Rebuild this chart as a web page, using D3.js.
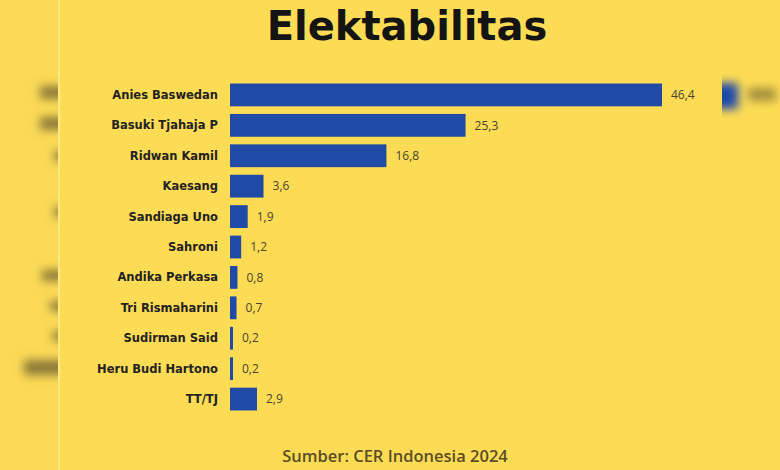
<!DOCTYPE html>
<html>
<head>
<meta charset="utf-8">
<script src="https://cdn.jsdelivr.net/npm/d3@7"></script>
<style>
html,body{margin:0;padding:0;background:#FDDC55;}
svg{display:block;}
</style>
</head>
<body>
<svg id="chart" width="780" height="470"></svg>
<script>
const categories = ["Anies Baswedan","Basuki Tjahaja P","Ridwan Kamil","Kaesang","Sandiaga Uno","Sahroni","Andika Perkasa","Tri Rismaharini","Sudirman Said","Heru Budi Hartono","TT/TJ"];
const values = [46.4,25.3,16.8,3.6,1.9,1.2,0.8,0.7,0.2,0.2,2.9];
const title = "Elektabilitas";
const source = "Sumber: CER Indonesia 2024";

const svg = d3.select("#chart");
const W = 780, H = 470;
const defs = svg.append("defs");
defs.append("filter").attr("id","blur").attr("filterUnits","userSpaceOnUse")
  .attr("x",-50).attr("y",-50).attr("width",W+100).attr("height",H+100)
  .append("feGaussianBlur").attr("stdDeviation", 5);

svg.append("rect").attr("width",W).attr("height",H).attr("fill","#FDDC55");

// blurred side panels (background of the screenshot)
const side = svg.append("g");
side.append("rect").attr("x",0).attr("y",0).attr("width",58).attr("height",H).attr("fill","#FBDA56");
side.append("rect").attr("x",722).attr("y",0).attr("width",58).attr("height",H).attr("fill","#FDDC55");
const leftClip = defs.append("clipPath").attr("id","lc");
leftClip.append("rect").attr("x",0).attr("y",0).attr("width",58).attr("height",H);
const rightClip = defs.append("clipPath").attr("id","rc");
rightClip.append("rect").attr("x",722).attr("y",0).attr("width",58).attr("height",H);
const lb = side.append("g").attr("clip-path","url(#lc)").append("g").attr("filter","url(#blur)");
[[40,86,40,13],[40,117,40,13],[54,151,20,10],[54,207,20,10],[42,270,40,11],[50,301,30,10],[53,331,20,10],[24,360,60,15]].forEach(d=>{
  lb.append("rect").attr("x",d[0]).attr("y",d[1]).attr("width",d[2]).attr("height",d[3]).attr("fill","#6e6030").attr("opacity",0.8);
});
const rb = side.append("g").attr("clip-path","url(#rc)").append("g").attr("filter","url(#blur)");
rb.append("rect").attr("x",712).attr("y",83).attr("width",26).attr("height",26).attr("fill","#1F4AA8");
rb.append("rect").attr("x",748).attr("y",88).attr("width",28).attr("height",13).attr("fill","#7a6c35").attr("opacity",0.7);
svg.append("line").attr("x1",59).attr("x2",59).attr("y1",0).attr("y2",H).attr("stroke","#FFF0A0").attr("stroke-width",1.2);

// scales
const x = d3.scaleLinear().domain([0, 46.4]).range([230, 662]);
const y = d3.scaleBand().domain(categories).range([82, 412]).paddingInner(0.25).paddingOuter(0.05);

svg.append("text").attr("x",407).attr("y",40).attr("text-anchor","middle")
  .attr("font-family","'DejaVu Sans', sans-serif").attr("font-weight","bold").attr("font-size",40)
  .attr("fill","#141414").text(title);

const g = svg.append("g");
g.selectAll("rect.bar").data(values).join("rect").attr("class","bar")
  .attr("x", x(0))
  .attr("y", (d,i)=>y(categories[i]))
  .attr("width", d=>Math.max(3, x(d)-x(0)))
  .attr("height", y.bandwidth())
  .attr("fill","#1F4BA6");

g.selectAll("text.cat").data(categories).join("text").attr("class","cat")
  .attr("x", 218).attr("y", d=>y(d)+y.bandwidth()/2).attr("dy","0.35em")
  .attr("text-anchor","end").attr("font-family","'DejaVu Sans', sans-serif").attr("font-weight","bold")
  .attr("font-size",11.5).attr("fill","#222").text(d=>d);

const fmt = v => d3.format(".1f")(v).replace(".", ",");
g.selectAll("text.val").data(values).join("text").attr("class","val")
  .attr("x", d=>x(0)+Math.max(3, x(d)-x(0))+9)
  .attr("y", (d,i)=>y(categories[i])+y.bandwidth()/2).attr("dy","0.35em")
  .attr("font-family","'Open Sans', sans-serif").attr("font-size",12).attr("fill","#4a4230")
  .text(fmt);

svg.append("text").attr("x",395).attr("y",462).attr("text-anchor","middle")
  .attr("font-family","'Open Sans', sans-serif").attr("font-weight",600).attr("font-size",16.5)
  .attr("fill","#5a4c25").text(source);
</script>
</body>
</html>
